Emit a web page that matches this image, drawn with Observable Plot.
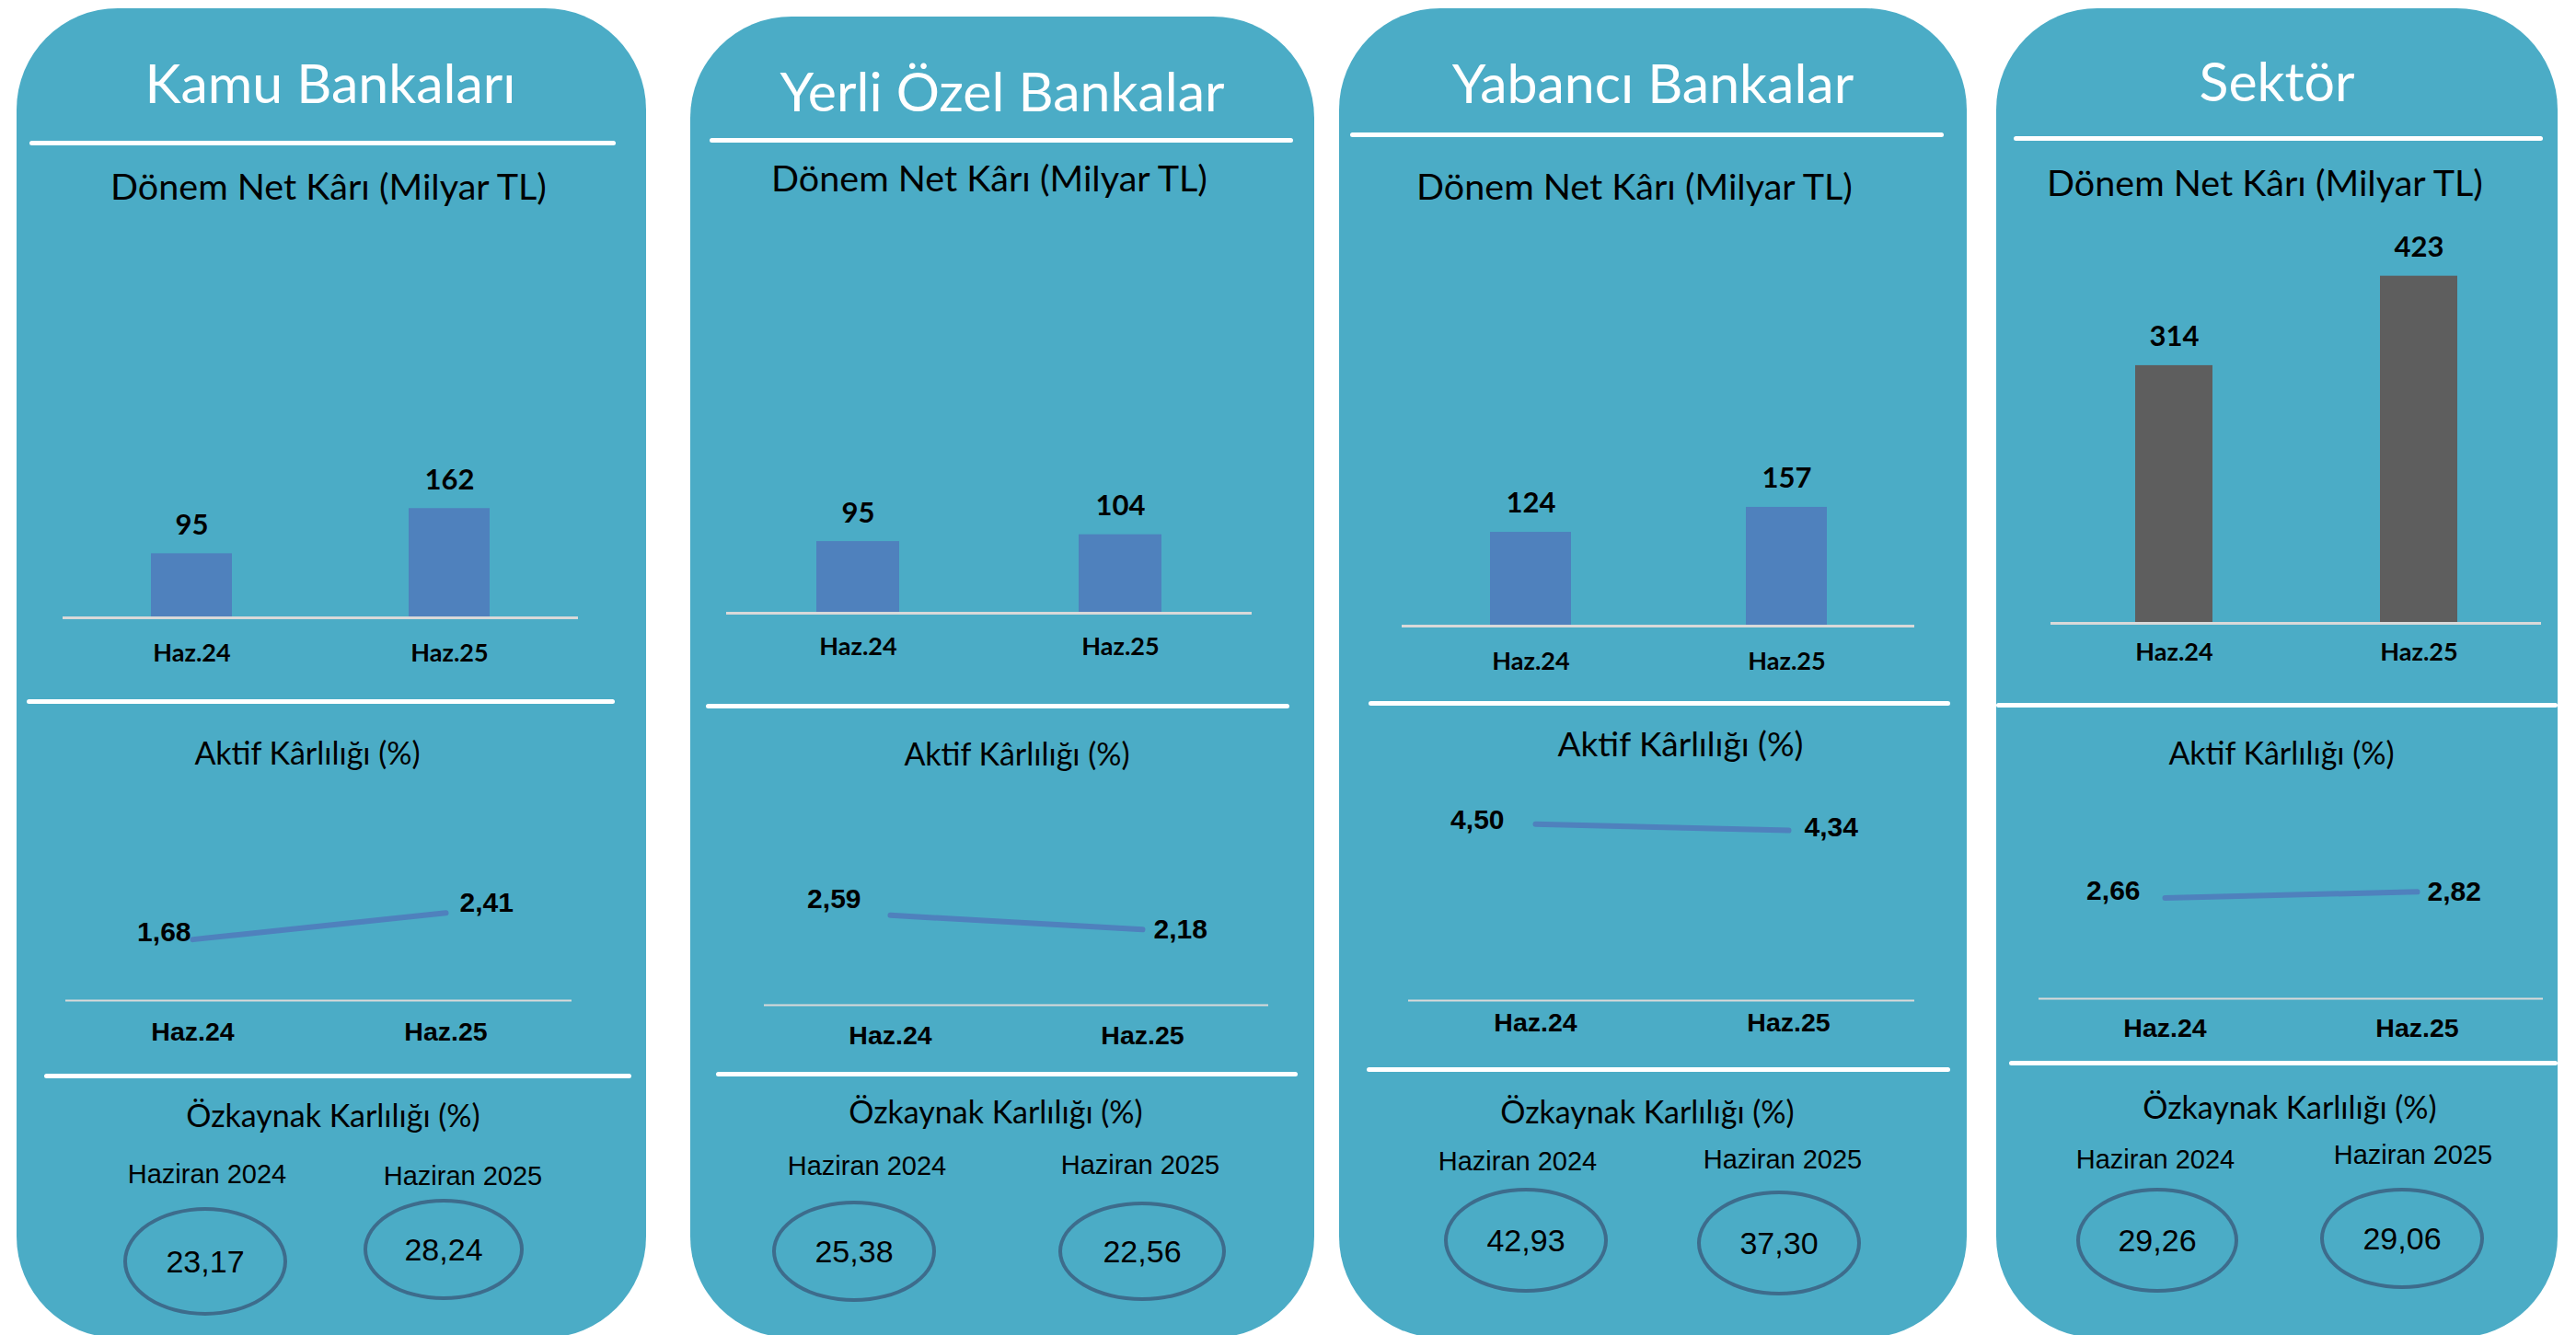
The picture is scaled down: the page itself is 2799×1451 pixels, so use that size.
<!DOCTYPE html>
<html>
<head>
<meta charset="utf-8">
<script src="https://cdn.jsdelivr.net/npm/d3@7"></script>
<script src="https://cdn.jsdelivr.net/npm/@observablehq/plot@0.6"></script>
<style>
  html, body { margin: 0; padding: 0; background: #fff; }
  #root { position: relative; width: 2799px; height: 1451px; overflow: hidden; background: #fff; }
  .panel { position: absolute; background: #4BACC6; border-radius: 110px; }
  .hline { position: absolute; background: #fff; border-radius: 3px; }
  .ctext { position: absolute; transform: translate(-50%, -50%); white-space: nowrap; line-height: 1; }
  .ell { position: absolute; transform: translate(-50%, -50%); border: 4px solid #3D6C8C; border-radius: 50%; box-sizing: border-box;
         display: flex; align-items: center; justify-content: center; font-family: "Liberation Sans", Arial, sans-serif; font-size: 34px; color: #000; }
  .abs { position: absolute; }
</style>
</head>
<body>
<div id="root"></div>
<script>
// ---------------- DATA ----------------
const groups = ["Kamu Bankaları", "Yerli Özel Bankalar", "Yabancı Bankalar", "Sektör"];
const categories = ["Haz.24", "Haz.25"];
const periods = ["Haziran 2024", "Haziran 2025"];
const netProfitTitle = "Dönem Net Kârı (Milyar TL)";
const roaTitle = "Aktif Kârlılığı (%)";
const roeTitle = "Özkaynak Karlılığı (%)";
const netProfit = [[95, 162], [95, 104], [124, 157], [314, 423]];
const roa = [[1.68, 2.41], [2.59, 2.18], [4.50, 4.34], [2.66, 2.82]];
const roe = [[23.17, 28.24], [25.38, 22.56], [42.93, 37.30], [29.26, 29.06]];

// ---------------- LAYOUT / STYLE ----------------
const barColors = ["#4F81BD", "#4F81BD", "#4F81BD", "#5E5E5E"];
const layout = [
  { panel: [18, 9, 702], title: [359, 89], sub: [357, 202], aktif: [334, 818], ozk: [362, 1212],
    lines: [[155, 32, 669], [762, 29, 668], [1169, 48, 686]],
    bar: { x0: 68, x1: 628, base: 671, k: 0.733, catDy: 39 },
    line: { x0: 71, x1: 621, base: 1087, k: 39.5, catDy: 34, dx: [-2, 15], dy: [-8, -11] },
    hz: [[225, 1276], [503, 1278]], ell: [[223, 1371, 178, 118], [482, 1358, 174, 110]] },
  { panel: [750, 18, 1428], title: [1089, 98], sub: [1075, 193], aktif: [1105, 819], ozk: [1082, 1208],
    lines: [[152, 771, 1405], [767, 767, 1401], [1167, 778, 1410]],
    bar: { x0: 789, x1: 1360, base: 666, k: 0.82, catDy: 37 },
    line: { x0: 830, x1: 1378, base: 1092, k: 37.7, catDy: 33, dx: [-32, 12], dy: [-17, 0] },
    hz: [[942, 1267], [1239, 1266]], ell: [[928, 1360, 178, 110], [1241, 1360, 182, 108]] },
  { panel: [1455, 9, 2137], title: [1796, 89], sub: [1776, 202], aktif: [1826, 807], ozk: [1790, 1208],
    lines: [[146, 1467, 2112], [764, 1487, 2119], [1162, 1485, 2119]],
    bar: { x0: 1523, x1: 2080, base: 680, k: 0.822, catDy: 39 },
    line: { x0: 1530, x1: 2080, base: 1087, k: 42.6, catDy: 24, dx: [-34, 17], dy: [-4, -3] },
    hz: [[1649, 1262], [1937, 1260]], ell: [[1658, 1348, 178, 114], [1933, 1351, 178, 114]] },
  { panel: [2169, 9, 2779], title: [2474, 87], sub: [2461, 198], aktif: [2479, 818], ozk: [2488, 1203],
    lines: [[150, 2188, 2763], [766, 2169, 2779], [1155, 2183, 2779]],
    bar: { x0: 2228, x1: 2761, base: 677, k: 0.892, catDy: 32 },
    line: { x0: 2215, x1: 2763, base: 1085, k: 41.2, catDy: 32, dx: [-27, 11], dy: [-8, 0] },
    hz: [[2342, 1260], [2622, 1255]], ell: [[2344, 1348, 176, 114], [2610, 1346, 178, 110]] }
];
const PANEL_BOTTOM = 1454;
const LATO = "Lato, 'Open Sans', sans-serif";
const ARIAL = "'Liberation Sans', Arial, sans-serif";
const fmt2 = v => v.toFixed(2).replace(".", ",");

const root = document.getElementById("root");
function add(cls, css, text) {
  const d = document.createElement("div");
  d.className = cls;
  Object.assign(d.style, css);
  if (text != null) d.textContent = text;
  root.appendChild(d);
  return d;
}
function ctext(x, y, text, css) {
  return add("ctext", Object.assign({ left: x + "px", top: y + "px" }, css), text);
}

groups.forEach((g, i) => {
  const L = layout[i];
  const [px0, py0, px1] = L.panel;
  add("panel", { left: px0 + "px", top: py0 + "px", width: (px1 - px0) + "px", height: (PANEL_BOTTOM - py0) + "px" });
  L.lines.forEach(([y, x0, x1]) => add("hline", { left: x0 + "px", top: (y - 2.5) + "px", width: (x1 - x0) + "px", height: "5px" }));

  ctext(L.title[0], L.title[1], g, { fontFamily: LATO, fontSize: "59px", color: "#fff" });
  ctext(L.sub[0], L.sub[1], netProfitTitle, { fontFamily: LATO, fontSize: "39.5px", color: "#000" });
  ctext(L.aktif[0], L.aktif[1], roaTitle, { fontFamily: LATO, fontSize: i === 2 ? "37px" : "34px", color: "#000" });
  ctext(L.ozk[0], L.ozk[1], roeTitle, { fontFamily: LATO, fontSize: "34px", color: "#000" });

  // ---- bar chart: net profit ----
  {
    const data = categories.map((c, j) => ({ cat: c, value: netProfit[i][j] }));
    const W = L.bar.x1 - L.bar.x0, areaH = 440, mb = 70;
    const svg = Plot.plot({
      width: W, height: areaH + mb,
      marginLeft: 0, marginRight: 0, marginTop: 0, marginBottom: mb,
      x: { domain: categories, paddingInner: 0.685, paddingOuter: 0.3425, axis: null },
      y: { domain: [0, areaH / L.bar.k], axis: null },
      style: { background: "transparent", overflow: "visible" },
      marks: [
        Plot.barY(data, { x: "cat", y: "value", fill: barColors[i] }),
        Plot.ruleY([0], { stroke: "#D9D9D9", strokeWidth: 3 }),
        Plot.text(data, { x: "cat", y: "value", text: d => String(d.value), dy: -31, fontSize: 31, fontWeight: "bold", fontFamily: LATO, fill: "#000" }),
        Plot.text(data, { x: "cat", y: d => 0, text: "cat", dy: L.bar.catDy, fontSize: 27, fontWeight: "bold", fontFamily: LATO, fill: "#000" })
      ]
    });
    const wrap = add("abs", { left: L.bar.x0 + "px", top: (L.bar.base - areaH) + "px" });
    wrap.appendChild(svg);
  }

  // ---- line chart: ROA ----
  {
    const data = categories.map((c, j) => ({ cat: c, value: roa[i][j] }));
    const W = L.line.x1 - L.line.x0, areaH = 260, mb = 60;
    const lab = { x: "cat", y: "value", text: d => fmt2(d.value), fontSize: 30, fontWeight: "bold", fontFamily: ARIAL, fill: "#000" };
    const svg = Plot.plot({
      width: W, height: areaH + mb,
      marginLeft: 0, marginRight: 0, marginTop: 0, marginBottom: mb,
      x: { type: "point", domain: categories, padding: 0.5, axis: null },
      y: { domain: [0, areaH / L.line.k], axis: null },
      style: { background: "transparent", overflow: "visible" },
      marks: [
        Plot.ruleY([0], { stroke: "#D9D9D9", strokeWidth: 2 }),
        Plot.line(data, { x: "cat", y: "value", stroke: "#4F81BD", strokeWidth: 6, strokeLinecap: "round" }),
        Plot.text([data[0]], Object.assign({}, lab, { textAnchor: "end", dx: L.line.dx[0], dy: L.line.dy[0] })),
        Plot.text([data[1]], Object.assign({}, lab, { textAnchor: "start", dx: L.line.dx[1], dy: L.line.dy[1] })),
        Plot.text(data, { x: "cat", y: d => 0, text: "cat", dy: L.line.catDy, fontSize: 28.5, fontWeight: "bold", fontFamily: ARIAL, fill: "#000" })
      ]
    });
    const wrap = add("abs", { left: L.line.x0 + "px", top: (L.line.base - areaH) + "px" });
    wrap.appendChild(svg);
  }

  // ---- ROE ellipses ----
  periods.forEach((p, j) => {
    ctext(L.hz[j][0], L.hz[j][1], p, { fontFamily: ARIAL, fontSize: "29px", color: "#000" });
    const [cx, cy, w, h] = L.ell[j];
    add("ell", { left: cx + "px", top: cy + "px", width: w + "px", height: h + "px" }, fmt2(roe[i][j]));
  });
});
</script>
</body>
</html>
